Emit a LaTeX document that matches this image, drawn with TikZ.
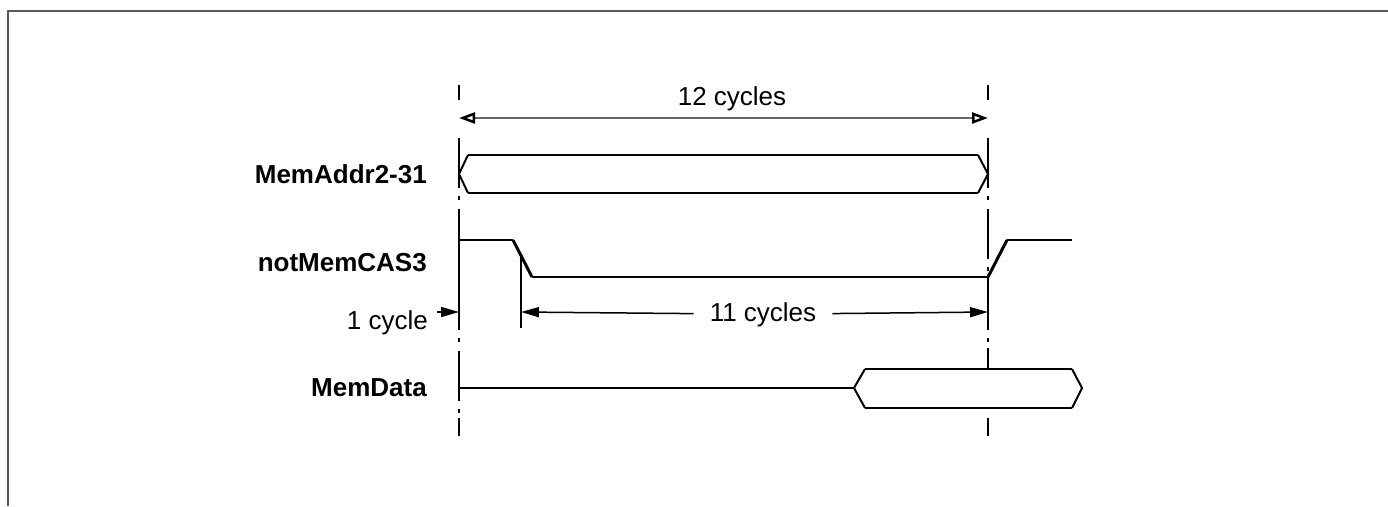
\documentclass[tikz,border=0pt]{standalone}
\usepackage{fontspec}
\setmainfont{Liberation Sans}
\usetikzlibrary{arrows.meta}
\begin{document}
\begin{tikzpicture}[x=1pt,y=-1pt,
  lbl/.style={font=\fontsize{26}{30}\selectfont, inner sep=0pt},
  signame/.style={font=\fontsize{26}{30}\selectfont\bfseries, inner sep=0pt, anchor=east},
  wire/.style={line width=1.5pt},
  slope/.style={line width=3pt},
  guide/.style={line width=1.5pt, dash pattern=on 50pt off 8pt on 4pt off 9pt},
  opentip/.style={{Triangle[open,length=16pt,width=11pt,line width=2.5pt,color=black]}-{Triangle[open,length=16pt,width=11pt,line width=2.5pt,color=black]}},
  filltip/.style={-{Triangle[length=18pt,width=10pt]}}]
\useasboundingbox (0,0) rectangle (1388,506);
% frame
\draw[line width=2pt, black!65] (8,506) -- (8,11) -- (1388,11);
% guide lines
\foreach \x in {459,988} {
  \draw[line width=2pt] (\x,85) -- (\x,100);
  \draw[line width=2pt] (\x,418) -- (\x,436);
}
\draw[guide] (459,138) -- (459,418);
\draw[guide] (988,138) -- (988,348);
% 12 cycles
\coordinate (startL) at (459,118);
\coordinate (startR) at (988,118);
\draw[wire, black!60, opentip] (startL) -- (startR);
\node[lbl, anchor=base] (twelve) at (732,105) {12 cycles};
% MemAddr2-31
\node[signame] (addr) at (427,174) {MemAddr2-31};
\draw[wire] (468,155) -- (978,155);
\draw[wire] (468,193) -- (978,193);
\draw[line width=2pt] (468,155) -- (459,174) -- (468,193);
\draw[line width=2pt] (978,155) -- (988,174) -- (978,193);
% notMemCAS3
\node[signame] (cas) at (427,263) {notMemCAS3};
\draw[wire] (459,240) -- (513,240);
\draw[slope] (513,240) -- (532,277);
\draw[wire] (532,277) -- (988,277);
\draw[slope] (988,277) -- (1007,240);
\draw[wire] (1007,240) -- (1072,240);
\draw[wire] (459,240) -- (459,312);
\draw[wire] (988,277) -- (988,312);
\draw[wire] (521,256) -- (521,328);
% 1 cycle
\coordinate (onetail) at (437,312);
\coordinate (onehead) at (459,312);
\node[lbl, anchor=base east] (one) at (428,329) {1 cycle};
\draw[wire, filltip] (onetail) -- (onehead);
% 11 cycles
\coordinate (elevenL) at (521,312);
\coordinate (elevenR) at (988,312);
\node[lbl, anchor=base, fill=white, inner xsep=16pt] (eleven) at (763,321) {11 cycles};
\draw[wire, filltip] (eleven) -- (elevenL);
\draw[wire, filltip] (eleven) -- (elevenR);
% MemData
\node[signame] (data) at (427,388) {MemData};
\draw[wire] (459,388) -- (854,388);
\draw[wire] (865,369) -- (1072,369);
\draw[wire] (865,408) -- (1072,408);
\draw[line width=2pt] (865,369) -- (854,388) -- (865,408);
\draw[line width=2pt] (1072,369) -- (1082,388) -- (1072,408);
\draw[wire] (988,348) -- (988,369);
\end{tikzpicture}
\end{document}
